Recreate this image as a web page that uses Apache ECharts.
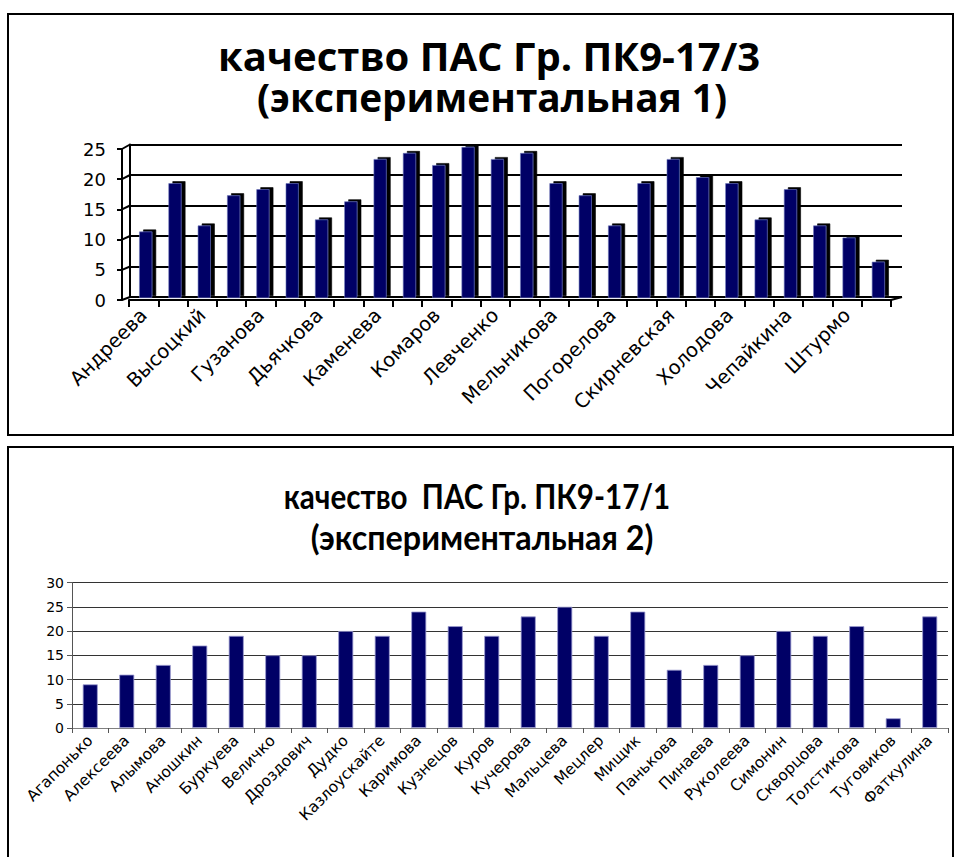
<!DOCTYPE html>
<html>
<head>
<meta charset="utf-8">
<script src="https://cdn.jsdelivr.net/npm/echarts@6/dist/echarts.min.js"></script>
<style>
html,body{margin:0;padding:0;background:#fff;}
#c{width:956px;height:857px;}
</style>
</head>
<body>
<div id="c"></div>
<script>
// ---- Chart 1: ПК9-17/3 ----
const title1 = ['качество ПАС Гр. ПК9-17/3', '(экспериментальная 1)'];
const cats1 = ['Андреева','','Высоцкий','','Гузанова','','Дьячкова','','Каменева','','Комаров','','Левченко','','Мельникова','','Погорелова','','Скирневская','','Холодова','','Чепайкина','','Штурмо',''];
const vals1 = [11,19,12,17,18,19,13,16,23,24,22,25,23,24,19,17,12,19,23,20,19,13,18,12,10,6];
const ticks1 = [0,5,10,15,20,25];

// ---- Chart 2: ПК9-17/1 ----
const title2 = ['качество  ПАС Гр. ПК9-17/1', '(экспериментальная 2)'];
const cats2 = ['Агапонько','Алексеева','Алымова','Аношкин','Буркуева','Величко','Дроздович','Дудко','Казлоускайте','Каримова','Кузнецов','Куров','Кучерова','Мальцева','Мецлер','Мищик','Панькова','Пинаева','Руколеева','Симонин','Скворцова','Толстикова','Туговиков','Фаткулина'];
const vals2 = [9,11,13,17,19,15,15,20,19,24,21,19,23,25,19,24,12,13,15,20,19,21,2,23];
const ticks2 = [0,5,10,15,20,25,30];

const chart = echarts.init(document.getElementById('c'), null, {renderer:'svg'});
const navy = '#000066';
const F = 'DejaVu Sans';
const min1 = ticks1[0], max1 = ticks1[ticks1.length-1], step1 = ticks1[1]-ticks1[0];
const min2 = ticks2[0], max2 = ticks2[ticks2.length-1], step2 = ticks2[1]-ticks2[0];

const option = {
  animation:false,
  backgroundColor:'#fff',
  grid:[
    {left:122, top:149, width:762, height:151},  // 0 front y axis
    {left:129, top:149, width:762, height:151},  // 1 front x axis
    {left:130, top:144.5, width:772, height:152.5}, // 2 back wall
    {left:131, top:147, width:762, height:151},  // 3 bars
    {left:72, top:582.5, width:876, height:145.5} // 4 bottom chart
  ],
  xAxis:[
    {gridIndex:0, type:'category', data:cats1, show:false},
    {gridIndex:1, type:'category', data:cats1, boundaryGap:true,
      axisLine:{show:true, lineStyle:{color:'#000', width:2}},
      axisTick:{show:true, length:7, interval:0, lineStyle:{color:'#000', width:2}},
      axisLabel:{interval:1, rotate:45, fontFamily:F, fontSize:19.5, color:'#000', margin:12}},
    {gridIndex:2, type:'category', data:cats1, show:false},
    {gridIndex:3, type:'category', data:cats1, show:false},
    {gridIndex:4, type:'category', data:cats2,
      axisLine:{show:true, lineStyle:{color:'#808080', width:1}},
      axisTick:{show:true, length:5, interval:0, lineStyle:{color:'#555'}},
      axisLabel:{interval:0, rotate:45, fontFamily:F, fontSize:15.5, color:'#000', margin:10}}
  ],
  yAxis:[
    {gridIndex:0, type:'value', min:min1, max:max1, interval:step1,
      axisLine:{show:true, lineStyle:{color:'#000', width:2}},
      axisTick:{show:true, length:5, lineStyle:{color:'#000', width:2}},
      axisLabel:{fontFamily:F, fontSize:18, color:'#000', margin:16},
      splitLine:{show:false}},
    {gridIndex:1, type:'value', min:min1, max:max1, interval:step1, show:false},
    {gridIndex:2, type:'value', min:min1, max:max1, interval:step1,
      axisLine:{show:true, lineStyle:{color:'#000', width:2}},
      axisTick:{show:false}, axisLabel:{show:false},
      splitLine:{show:true, lineStyle:{color:'#000', width:2}}},
    {gridIndex:3, type:'value', min:min1, max:max1, interval:step1, show:false},
    {gridIndex:4, type:'value', min:min2, max:max2, interval:step2,
      axisLine:{show:true, lineStyle:{color:'#555', width:1}},
      axisTick:{show:true, length:5, lineStyle:{color:'#555'}},
      axisLabel:{fontFamily:F, fontSize:14, color:'#000', margin:8},
      splitLine:{show:true, lineStyle:{color:'#333', width:1}}}
  ],
  series:[
    {type:'bar', xAxisIndex:3, yAxisIndex:3, data:vals1, barWidth:13,
      itemStyle:{color:navy, borderColor:'#6a74b8', borderWidth:0.6,
        shadowColor:'#000', shadowOffsetX:4, shadowOffsetY:-2, shadowBlur:0}},
    {type:'bar', xAxisIndex:4, yAxisIndex:4, data:vals2, barWidth:15,
      itemStyle:{color:navy, borderColor:'#9a9ad0', borderWidth:0.8}}
  ],
  graphic:[
    {type:'rect', shape:{x:8, y:14, width:945, height:421}, style:{fill:'none', stroke:'#000', lineWidth:2}, silent:true},
    {type:'polyline', shape:{points:[[8,857],[8,447],[953,447],[953,857]]}, style:{fill:'none', stroke:'#000', lineWidth:2}, silent:true},
    {type:'text', x:489, y:55, style:{text:title1[0], textAlign:'center', textVerticalAlign:'middle', font:'bold 40px "Open Sans"', fill:'#000'}},
    {type:'text', x:492, y:97, scaleX:0.97, style:{text:title1[1], textAlign:'center', textVerticalAlign:'middle', font:'bold 40px "Open Sans"', fill:'#000'}},
    {type:'text', x:477, y:496, scaleX:0.87, style:{text:title2[0], textAlign:'center', textVerticalAlign:'middle', font:'bold 34px Lato', fill:'#000'}},
    {type:'text', x:482, y:537, scaleX:0.95, style:{text:title2[1], textAlign:'center', textVerticalAlign:'middle', font:'bold 34px Lato', fill:'#000'}}
  ]
};
chart.setOption(option);

// perspective connectors (derived from axis scales)
const extra = [];
ticks1.forEach(function(t){
  const f = chart.convertToPixel({xAxisIndex:0, yAxisIndex:0}, [0, t]);
  const b = chart.convertToPixel({xAxisIndex:2, yAxisIndex:2}, [0, t]);
  extra.push({type:'line', shape:{x1:122, y1:f[1], x2:130, y2:b[1]}, style:{stroke:'#000', lineWidth:2}, silent:true});
});
const fr = chart.convertToPixel({yAxisIndex:1}, 0);
const br = chart.convertToPixel({yAxisIndex:2}, 0);
extra.push({type:'line', shape:{x1:891, y1:fr, x2:902, y2:br}, style:{stroke:'#000', lineWidth:2}, silent:true});
chart.setOption({graphic: option.graphic.concat(extra)});
</script>
</body>
</html>
